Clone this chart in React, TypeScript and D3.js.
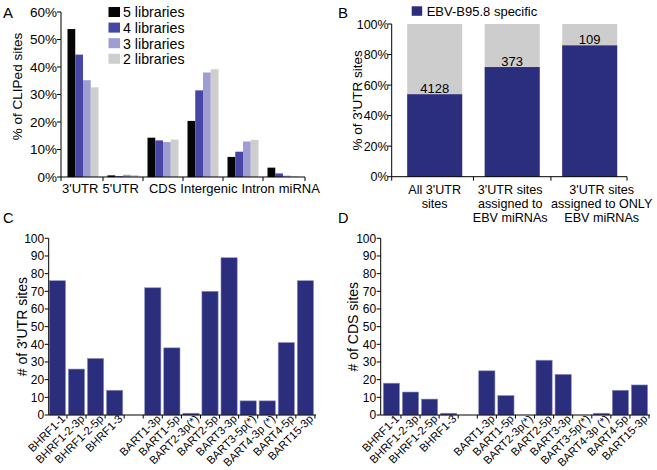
import React from "react";
import * as d3 from "d3";

const FONT = "'Liberation Sans', Arial, Helvetica, sans-serif";

// Panel A data
const regionCategories = ["3'UTR", "5'UTR", "CDS", "Intergenic", "Intron", "miRNA"];
const libraryNames = ["5 libraries", "4 libraries", "3 libraries", "2 libraries"];
const lib5 = [53.8, 0.6, 14.3, 20.4, 7.3, 3.4];
const lib4 = [44.5, 0.3, 13.3, 31.5, 9.2, 1.3];
const lib3 = [35.2, 0.8, 12.7, 38.0, 12.9, 0.5];
const lib2 = [32.6, 0.7, 13.6, 39.2, 13.5, 0.3];
const libColors = ["#050505", "#4646a6", "#9e9ed3", "#cecece"];
const pctTicksA = [0, 10, 20, 30, 40, 50, 60];

// Panel B data
const utrGroupLabels = [
  ["All 3'UTR", "sites"],
  ["3'UTR sites", "assigned to", "EBV miRNAs"],
  ["3'UTR sites", "assigned to ONLY", "EBV miRNAs"],
];
const specificPct = [54.0, 71.8, 86.0];
const siteCounts = [4128, 373, 109];
const pctTicksB = [0, 20, 40, 60, 80, 100];

// Panels C & D data
const mirnaNames = [
  "BHRF1-1", "BHRF1-2-3p", "BHRF1-2-5p", "BHRF1-3", "",
  "BART1-3p", "BART1-5p", "BART2-3p(*)", "BART2-5p", "BART3-3p",
  "BART3-5p(*)", "BART4-3p (*)", "BART4-5p", "BART15-3p",
];
const utrSites = [76, 26, 32, 14, 0, 72, 38, 1, 70, 89, 8, 8, 41, 76];
const cdsSites = [18, 13, 9, 1, 0, 25, 11, 0, 31, 23, 0, 1, 14, 17];
const countTicks = [0, 10, 20, 30, 40, 50, 60, 70, 80, 90, 100];

const NAVY = "#2b2d7d";

function PanelA() {
  const x0 = 61, x1 = 305, yBase = 177, yTop = 12;
  const y = d3.scaleLinear().domain([0, 60]).range([yBase, yTop]);
  const xg = d3.scaleBand<string>().domain(regionCategories).range([x0, x1]).paddingInner(0.225).paddingOuter(0.1625);
  const xi = d3.scaleBand<string>().domain(libraryNames).range([0, xg.bandwidth()]).padding(0);
  const series = [lib5, lib4, lib3, lib2];
  const step = xg.step();
  const xTicks = [x0, ...regionCategories.slice(1).map((c) => (xg(c) as number) - (step - xg.bandwidth()) / 2), x1];
  return (
    <g>
      <text x={3} y={18} fontSize={15}>A</text>
      {series.map((vals, si) =>
        regionCategories.map((c, ci) => (
          <rect key={`a${si}-${ci}`} x={(xg(c) as number) + (xi(libraryNames[si]) as number)} y={y(vals[ci])}
            width={xi.bandwidth()} height={yBase - y(vals[ci])} fill={libColors[si]} />
        ))
      )}
      <line x1={x0} x2={x0} y1={yTop} y2={yBase} stroke="#000" strokeWidth={1} />
      <line x1={x0} x2={x1} y1={yBase} y2={yBase} stroke="#000" strokeWidth={1} />
      {pctTicksA.map((t) => (
        <g key={t}>
          <line x1={x0 - 4} x2={x0} y1={y(t)} y2={y(t)} stroke="#000" />
          <text x={x0 - 4} y={y(t)} dy="0.36em" textAnchor="end" fontSize={13.5}>{t}%</text>
        </g>
      ))}
      {xTicks.map((t, i) => (
        <line key={i} x1={t} x2={t} y1={yBase} y2={yBase + 4} stroke="#000" />
      ))}
      <text x={62} y={193} fontSize={13} style={{ whiteSpace: "pre" }}>
        {regionCategories.map((c, i) => (
          <tspan key={c} dx={i === 0 ? 0 : i === 2 ? 10 : 4}>{c}</tspan>
        ))}
      </text>
      <text transform={`translate(22,${(yTop + yBase) / 2 - 8}) rotate(-90)`} textAnchor="middle" fontSize={13.5}>% of CLIPed sites</text>
      {libraryNames.map((n, i) => (
        <g key={n}>
          <rect x={108.5} y={7 + i * 15.6} width={11.5} height={10} fill={libColors[i]} />
          <text x={123} y={17.3 + i * 15.6} fontSize={14.2}>{n}</text>
        </g>
      ))}
    </g>
  );
}

function PanelB() {
  const x0 = 391.7, xEnd = 627, yBase = 176.7, yTop = 24;
  const y = d3.scaleLinear().domain([0, 100]).range([yBase, yTop]);
  const idx = specificPct.map((_, i) => i);
  const x = d3.scaleBand<number>().domain(idx).range([x0, 632.7]).paddingInner(0.29).paddingOuter(0.2);
  const gap = x.step() - x.bandwidth();
  const labelShift = [0, -2, 12];
  return (
    <g>
      <text x={338} y={18} fontSize={15}>B</text>
      <rect x={411.7} y={6.3} width={10.5} height={9.5} fill={NAVY} />
      <text x={426.7} y={15.5} fontSize={13}>EBV-B95.8 specific</text>
      {idx.map((i) => (
        <g key={i}>
          <rect x={x(i)} y={y(100)} width={x.bandwidth()} height={yBase - y(100)} fill="#cdcdcd" />
          <rect x={x(i)} y={y(specificPct[i])} width={x.bandwidth()} height={yBase - y(specificPct[i])} fill={NAVY} />
          <text x={(x(i) as number) + x.bandwidth() / 2} y={y(specificPct[i]) - 1.5} textAnchor="middle" fontSize={13}>{siteCounts[i]}</text>
          <text textAnchor="middle" fontSize={12.6}>
            {utrGroupLabels[i].map((l, li) => (
              <tspan key={li} x={(x(i) as number) + x.bandwidth() / 2 + labelShift[i]} y={193.5 + li * 14}>{l}</tspan>
            ))}
          </text>
        </g>
      ))}
      <line x1={x0} x2={x0} y1={yTop} y2={yBase} stroke="#000" />
      <line x1={x0} x2={xEnd} y1={yBase} y2={yBase} stroke="#000" />
      {pctTicksB.map((t) => (
        <g key={t}>
          <line x1={x0 - 4} x2={x0} y1={y(t)} y2={y(t)} stroke="#000" />
          <text x={x0 - 3} y={y(t)} dy="0.36em" textAnchor="end" fontSize={12.5}>{t}%</text>
        </g>
      ))}
      {[x0, ...idx.slice(1).map((i) => (x(i) as number) - gap / 2), xEnd].map((t, i) => (
        <line key={i} x1={t} x2={t} y1={yBase} y2={yBase + 4} stroke="#000" />
      ))}
      <text transform={`translate(362,${(yTop + yBase) / 2}) rotate(-90)`} textAnchor="middle" fontSize={13.5}>% of 3'UTR sites</text>
    </g>
  );
}

function CountPanel({ letter, letterX, axisX, barStart, barEnd, axisEnd, values, title, titleX }: any) {
  const yBase = 415, yTop = 238.3;
  const y = d3.scaleLinear().domain([0, 100]).range([yBase, yTop]);
  const idx = values.map((_: number, i: number) => i);
  const x = d3.scaleBand<number>().domain(idx).range([barStart, barEnd]).paddingInner(0.15).paddingOuter(0);
  const gap = x.step() - x.bandwidth();
  return (
    <g>
      <text x={letterX} y={223.3} fontSize={14.5}>{letter}</text>
      {idx.map((i: number) =>
        values[i] > 0 ? (
          <rect key={i} x={x(i)} y={y(values[i])} width={x.bandwidth()} height={yBase - y(values[i])}
            fill={NAVY} stroke="#8d8fc2" strokeWidth={0.6} />
        ) : null
      )}
      <line x1={axisX} x2={axisX} y1={yTop} y2={yBase} stroke="#000" />
      <line x1={axisX} x2={axisEnd} y1={yBase} y2={yBase} stroke="#000" />
      {countTicks.map((t) => (
        <g key={t}>
          <line x1={axisX - 4} x2={axisX} y1={y(t)} y2={y(t)} stroke="#000" />
          <text x={axisX - 4.5} y={y(t)} dy="0.36em" textAnchor="end" fontSize={12}>{t}</text>
        </g>
      ))}
      {idx.map((i: number) => (
        <line key={i} x1={(x(i) as number) + x.bandwidth() + gap / 2} x2={(x(i) as number) + x.bandwidth() + gap / 2}
          y1={yBase} y2={yBase + 3.5} stroke="#000" />
      ))}
      {idx.map((i: number) =>
        mirnaNames[i] ? (
          <text key={i} transform={`translate(${(x(i) as number) + x.bandwidth() + 0.5},${yBase + 4.5}) rotate(-45)`}
            textAnchor="end" fontSize={11.3}>{mirnaNames[i]}</text>
        ) : null
      )}
      <text transform={`translate(${titleX},${(yTop + yBase) / 2}) rotate(-90)`} textAnchor="middle" fontSize={14}>{title}</text>
    </g>
  );
}

export default function App() {
  return (
    <svg width={657} height={470} style={{ position: "absolute", left: 0, top: 0, background: "#fff" }}
      fontFamily={FONT} fill="#000">
      <rect x={0} y={0} width={657} height={470} fill="#fff" />
      <PanelA />
      <PanelB />
      <CountPanel letter="C" letterX={3} axisX={48.7} barStart={49.3} barEnd={313.5} axisEnd={316}
        values={utrSites} title="# of 3'UTR sites" titleX={27} />
      <CountPanel letter="D" letterX={338} axisX={380.7} barStart={383.3} barEnd={647.6} axisEnd={650}
        values={cdsSites} title="# of CDS sites" titleX={358} />
    </svg>
  );
}
